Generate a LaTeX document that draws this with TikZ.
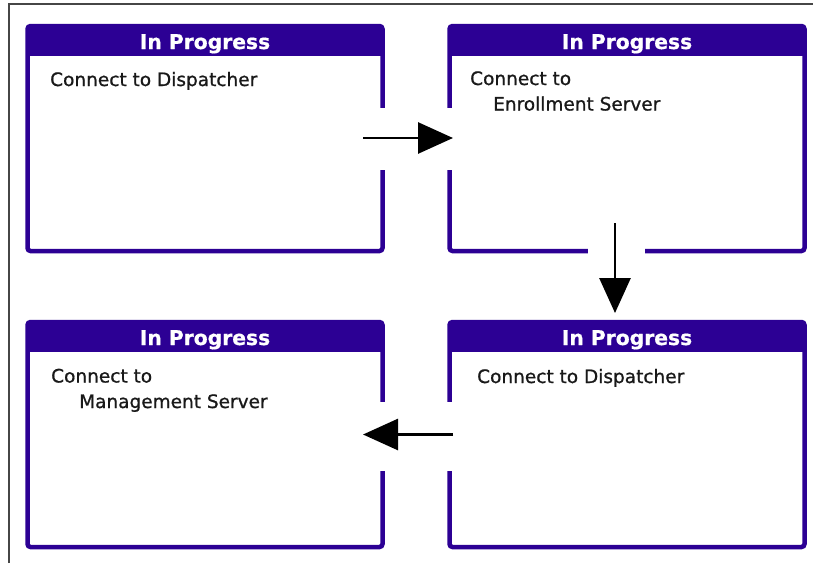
\documentclass[tikz,border=0pt]{standalone}
\usepackage{fontspec}
\setmainfont{DejaVu Sans}
\newfontfamily\boxbodyfont[FakeBold=0.9]{DejaVu Sans}
\newfontfamily\boxtitlefont[FakeBold=0.6]{DejaVu Sans Bold}
\usetikzlibrary{arrows.meta}
\definecolor{indigo}{RGB}{44,0,148}
\definecolor{framegray}{RGB}{70,70,70}
\definecolor{bodyink}{RGB}{25,25,25}
\tikzset{
  statebox/.style={draw=indigo, fill=white, line width=4.5pt, rounded corners=3pt,
    minimum width=355pt, minimum height=225pt, inner sep=0pt, outer sep=0pt},
  titlebar/.style={fill=indigo},
  titletext/.style={anchor=base, text=white, inner sep=0pt, font=\boxtitlefont\fontsize{20.3}{22}\selectfont},
  bodytext/.style={anchor=base west, inner sep=0pt, align=left, text=bodyink, font=\boxbodyfont\fontsize{18.5}{25.5}\selectfont},
  gapfill/.style={fill=white},
  flow/.style={line width=2.8pt, -{Triangle[length=35pt,width=31pt]}},
}
\begin{document}
\begin{tikzpicture}[x=1pt,y=-1pt]
\useasboundingbox (0,0) rectangle (813,563);
\fill[white] (0,0) rectangle (813,563);
% outer frame (top and left edges)
\draw[framegray, line width=1.3pt] (9,563) -- (9,4) -- (813,4);
% boxes
\node[statebox] (b1) at (205,138.5) {};
\node[statebox] (b2) at (627,138.5) {};
\node[statebox] (b3) at (205,434.5) {};
\node[statebox] (b4) at (627,434.5) {};
% title bars
\foreach \b in {b1,b2,b3,b4}{
  \fill[titlebar] (\b.north west) rectangle ([yshift=-30pt]\b.north east);
}
% gaps in borders
\fill[gapfill] ([xshift=-4pt,yshift=31pt]b1.east) rectangle ([xshift=4pt,yshift=-31pt]b1.east);
\fill[gapfill] ([xshift=-4pt,yshift=31pt]b2.west) rectangle ([xshift=4pt,yshift=-31pt]b2.west);
\fill[gapfill] ([xshift=-39pt,yshift=4pt]b2.south) rectangle ([xshift=18pt,yshift=-4pt]b2.south);
\fill[gapfill] ([xshift=-4pt,yshift=32.5pt]b3.east) rectangle ([xshift=4pt,yshift=-36.5pt]b3.east);
\fill[gapfill] ([xshift=-4pt,yshift=32.5pt]b4.west) rectangle ([xshift=4pt,yshift=-36.5pt]b4.west);
% titles
\node[titletext] (h1) at ([yshift=-23pt]b1.north) {In Progress};
\node[titletext] (h2) at ([yshift=-23pt]b2.north) {In Progress};
\node[titletext] (h3) at ([yshift=-23pt]b3.north) {In Progress};
\node[titletext] (h4) at ([yshift=-23pt]b4.north) {In Progress};
% body texts
\node[bodytext] (t1) at ([xshift=22.5pt,yshift=-60pt]b1.north west) {Connect to Dispatcher};
\node[bodytext] (t2) at ([xshift=20.5pt,yshift=-84.5pt]b2.north west) {Connect to\\\hspace*{23pt}Enrollment Server};
\node[bodytext] (t3) at ([xshift=23.5pt,yshift=-86pt]b3.north west) {Connect to\\\hspace*{28pt}Management Server};
\node[bodytext] (t4) at ([xshift=27.5pt,yshift=-61pt]b4.north west) {Connect to Dispatcher};
% arrows
\coordinate (a1s) at ([xshift=-19.5pt,yshift=0.5pt]b1.east);
\coordinate (a1e) at ([xshift=3.5pt,yshift=0.5pt]b2.west);
\coordinate (a2s) at ([xshift=-12pt,yshift=28pt]b2.south);
\coordinate (a2e) at ([xshift=-12pt,yshift=9pt]b4.north);
\coordinate (a3s) at ([xshift=3.5pt]b4.west);
\coordinate (a3e) at ([xshift=-19.5pt]b3.east);
\draw[flow] (a1s) -- (a1e);
\draw[flow] (a2s) -- (a2e);
\draw[flow] (a3s) -- (a3e);
\end{tikzpicture}
\end{document}
